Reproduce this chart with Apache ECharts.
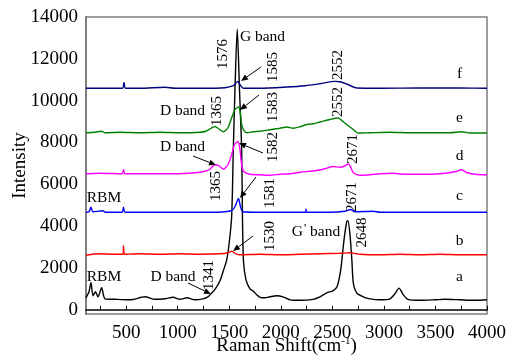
<!DOCTYPE html>
<html>
<head>
<meta charset="utf-8">
<script src="https://cdn.jsdelivr.net/npm/echarts@6/dist/echarts.min.js"></script>
<style>html,body{margin:0;padding:0;background:#fff}#c{width:507px;height:363px}</style>
</head>
<body>
<div id="c"></div>
<script>
// Tick labels
const xTicks = [500, 1000, 1500, 2000, 2500, 3000, 3500, 4000];
const xMinorTicks = [250, 500, 750, 1000, 1250, 1500, 1750, 2000, 2250, 2500, 2750, 3000, 3250, 3500, 3750, 4000];
const yTicks = [0, 2000, 4000, 6000, 8000, 10000, 12000, 14000];

// Spectra [Raman shift, intensity]
const specA = [[110,574],[139,861],[158,1310],[178,670],[202,861],[226,622],[262,1052],[294,526],[391,502],[537,478],[682,622],[779,502],[876,526],[954,598],[1022,502],[1090,574],[1167,478],[1245,526],[1293,622],[1332,813],[1371,1052],[1410,1387],[1439,1818],[1475,2392],[1497,3109],[1523,4448],[1539,7653],[1555,10523],[1577,13430],[1599,10523],[1620,7653],[1628,4305],[1638,2296],[1662,1435],[1701,1004],[1730,909],[1766,717],[1798,598],[1846,574],[1895,622],[1960,670],[2021,622],[2089,478],[2186,454],[2312,502],[2380,622],[2445,813],[2506,909],[2545,1100],[2581,1913],[2613,3348],[2639,4209],[2651,4257],[2671,3587],[2690,2296],[2703,1291],[2736,813],[2800,622],[2865,526],[2962,478],[3059,526],[3107,765],[3146,1038],[3188,717],[3233,502],[3350,454],[3495,478],[3592,502],[3738,478],[3883,454],[4000,478]];
const specB = [[110,2607],[246,2678],[391,2655],[469,2655],[474,3061],[483,2655],[634,2678],[828,2655],[1022,2678],[1216,2655],[1410,2678],[1487,2726],[1523,2798],[1565,2678],[1604,2631],[1798,2655],[1992,2631],[2186,2655],[2380,2678],[2574,2702],[2671,2726],[2768,2655],[2962,2631],[3156,2655],[3350,2631],[3544,2655],[3738,2631],[4000,2631]];
const specC = [[110,4663],[139,4687],[158,4903],[178,4687],[272,4735],[304,4663],[459,4663],[474,4903],[488,4663],[731,4663],[1022,4663],[1313,4663],[1458,4687],[1526,4759],[1555,4926],[1589,5330],[1609,4926],[1633,4687],[1798,4663],[1992,4663],[2239,4663],[2244,4807],[2249,4663],[2477,4663],[2622,4711],[2678,4798],[2719,4687],[2894,4711],[2962,4663],[3350,4663],[3738,4663],[4000,4663]];
const specD = [[110,6505],[246,6529],[459,6505],[474,6696],[488,6505],[731,6505],[973,6505],[1167,6553],[1264,6625],[1313,6720],[1361,6935],[1400,6888],[1442,6730],[1487,6935],[1523,7414],[1550,7892],[1584,8050],[1604,7653],[1620,6935],[1643,6601],[1701,6481],[1798,6457],[1895,6433],[1992,6481],[2089,6505],[2186,6577],[2331,6648],[2428,6744],[2506,6854],[2574,6816],[2613,6864],[2656,6969],[2681,6792],[2703,6553],[2768,6433],[2865,6457],[2962,6505],[3088,6529],[3204,6481],[3350,6481],[3544,6505],[3690,6601],[3754,6696],[3796,6577],[3883,6481],[4000,6457]];
const specE = [[110,8466],[197,8490],[262,8538],[294,8466],[440,8490],[634,8466],[828,8490],[1022,8466],[1216,8490],[1274,8538],[1323,8681],[1361,8767],[1390,8681],[1442,8514],[1487,8705],[1523,9183],[1555,9566],[1591,9695],[1609,9327],[1620,8849],[1643,8562],[1669,8466],[1733,8514],[1798,8538],[1895,8609],[1992,8681],[2057,8739],[2121,8681],[2186,8753],[2251,8863],[2312,8896],[2380,8978],[2477,9102],[2555,9169],[2606,8992],[2642,8849],[2687,8681],[2751,8451],[2865,8466],[3059,8490],[3253,8466],[3447,8466],[3641,8466],[3754,8514],[3835,8451],[4000,8451]];
const specF = [[110,10595],[343,10595],[464,10595],[479,10872],[493,10595],[634,10595],[876,10643],[973,10595],[1216,10595],[1458,10619],[1539,10714],[1561,10834],[1582,10920],[1604,10762],[1636,10595],[1798,10595],[2057,10652],[2235,10714],[2380,10810],[2525,10920],[2574,10906],[2639,10796],[2736,10604],[2962,10595],[3350,10604],[3738,10604],[4000,10595]];

const seriesNames = ['a', 'b', 'c', 'd', 'e', 'f'];
const seriesData = [specA, specB, specC, specD, specE, specF];
const seriesColors = ['#000000', '#ff0000', '#0000ff', '#ff00ff', '#008000', '#000080'];

const FONT = 'Liberation Serif';

const chart = echarts.init(document.getElementById('c'), null, {renderer: 'canvas'});

function txt(s, x, y, size, rot) {
  return {
    type: 'text', x: x, y: y, rotation: rot ? Math.PI / 2 : 0, z: 100,
    style: {text: s, x: 0, y: 0, align: 'center', verticalAlign: 'middle',
      fontSize: size, fontFamily: FONT, fill: '#000'}
  };
}
function arrow(x1, y1, x2, y2) {
  const a = Math.atan2(y2 - y1, x2 - x1), L = 7, W = 3;
  const bx = x2 - L * Math.cos(a), by = y2 - L * Math.sin(a);
  const nx = -Math.sin(a), ny = Math.cos(a);
  return [
    {type: 'line', z: 100, shape: {x1: x1, y1: y1, x2: bx, y2: by}, style: {stroke: '#000', lineWidth: 1}},
    {type: 'polygon', z: 100, shape: {points: [[x2, y2], [bx + W * nx, by + W * ny], [bx - W * nx, by - W * ny]]}, style: {fill: '#000'}}
  ];
}

const annotations = [
  txt('G band', 262.5, 36.5, 15.5),
  txt('1576', 223, 54, 15, true),
  txt('1585', 273.3, 67, 15, true),
  txt('2552', 338.3, 65, 15, true),
  txt('2552', 338.3, 102, 15, true),
  txt('1583', 272.7, 107, 15, true),
  txt('D band', 182.5, 110.5, 15.5),
  txt('1365', 216.7, 111, 15, true),
  txt('D band', 182.5, 146.5, 15.5),
  txt('1582', 273, 147, 15, true),
  txt('1365', 215.7, 186, 15, true),
  txt('2671', 353, 149, 15, true),
  txt('1581', 270, 193, 15, true),
  txt('2671', 351.7, 197, 15, true),
  txt('RBM', 104, 197.5, 15.5),
  txt('1530', 270, 236, 15, true),
  {type: 'text', x: 316, y: 231.5, z: 100, style: {text: "{g|G}{s|'}{g| band}", align: 'center', verticalAlign: 'middle',
    rich: {g: {fontSize: 15.5, fontFamily: FONT, fill: '#000'}, s: {fontSize: 12, fontFamily: FONT, fill: '#000', padding: [0, 0, 5, 1]}}}},
  txt('2648', 361.7, 232.5, 15, true),
  txt('RBM', 104, 276.5, 15.5),
  txt('D band', 173, 276.5, 15.5),
  txt('1341', 209.3, 275, 15, true),
  txt('f', 459.5, 73.5, 15.5),
  txt('e', 459.5, 117.5, 15.5),
  txt('d', 459.5, 156, 15.5),
  txt('c', 459.5, 195.5, 15.5),
  txt('b', 459.5, 241, 15.5),
  txt('a', 459.5, 276.5, 15.5)
].concat(
  arrow(261, 67, 241, 81),
  arrow(259, 95, 240, 110),
  arrow(263, 153, 239, 143),
  arrow(193, 156, 216, 165),
  arrow(256, 177, 240, 198),
  arrow(253, 236, 233, 251),
  arrow(188, 283, 211, 294)
);

const option = {
  animation: false,
  backgroundColor: '#fff',
  textStyle: {fontFamily: FONT},
  grid: {left: 86, right: 20, top: 17, bottom: 49, containLabel: false, outerBoundsMode: 'none',
    show: true, borderColor: '#7f7f7f', borderWidth: 1.5, backgroundColor: 'transparent'},
  xAxis: {
    type: 'value', min: 110, max: 4000,
    name: 'Raman Shift(cm{s|-1})', nameLocation: 'middle', nameGap: 22, nameMoveOverlap: false,
    nameTextStyle: {fontFamily: FONT, fontSize: 19, color: '#000',
      rich: {s: {fontFamily: FONT, fontSize: 11, color: '#000', padding: [0, 0, 9, 0]}}},
    axisLine: {show: true, lineStyle: {color: '#000', width: 1.5}},
    axisTick: {show: true, inside: true, length: 4, customValues: xMinorTicks, lineStyle: {color: '#000', width: 1}},
    axisLabel: {customValues: xTicks, formatter: v => String(v), fontFamily: FONT, fontSize: 19, color: '#000', margin: 10},
    splitLine: {show: false}
  },
  yAxis: {
    type: 'value', min: -200, max: 14000,
    name: 'Intensity', nameLocation: 'middle', nameGap: 56, nameMoveOverlap: false,
    nameTextStyle: {fontFamily: FONT, fontSize: 19, color: '#000'},
    axisLine: {show: true, lineStyle: {color: '#7f7f7f', width: 2}},
    axisTick: {show: false},
    axisLabel: {customValues: yTicks, formatter: v => String(v), fontFamily: FONT, fontSize: 19, color: '#000', margin: 8},
    splitLine: {show: false}
  },
  series: seriesData.map((d, i) => ({
    name: seriesNames[i], type: 'line', data: d, showSymbol: false, smooth: 0.25,
    lineStyle: {color: seriesColors[i], width: 1.4}, z: 2 + i, silent: true
  })),
  graphic: {elements: annotations}
};
chart.setOption(option);
</script>
</body>
</html>
